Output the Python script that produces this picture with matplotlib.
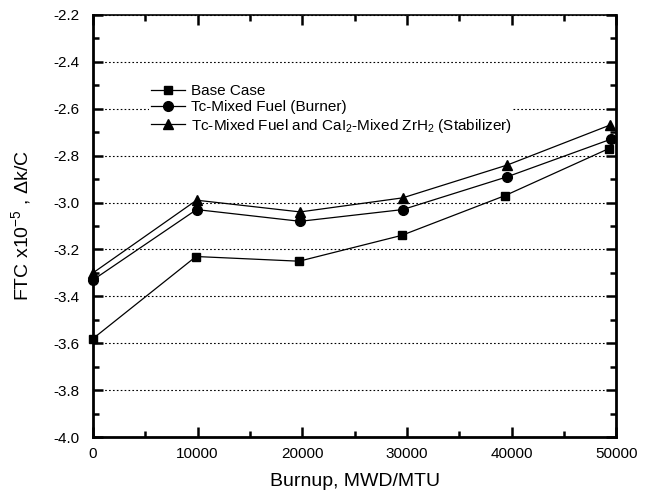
import matplotlib
matplotlib.use("Agg")
import matplotlib.pyplot as plt
from matplotlib.ticker import MultipleLocator

plt.rcParams['font.family'] = ['Liberation Sans', 'DejaVu Sans']
plt.rcParams['mathtext.default'] = 'regular'

# burnup points (MWD/MTU)
burnup_base = [0, 9850, 19700, 29500, 39400, 49300]
burnup_tc = [0, 9900, 19800, 29600, 39600, 49500]
burnup_stab = [0, 9900, 19800, 29600, 39600, 49400]

ftc_base = [-3.58, -3.23, -3.25, -3.14, -2.97, -2.77]
ftc_tc = [-3.33, -3.03, -3.08, -3.03, -2.89, -2.73]
ftc_stab = [-3.30, -2.99, -3.04, -2.98, -2.84, -2.67]

labels = ["Base Case",
          "Tc-Mixed Fuel (Burner)",
          "Tc-Mixed Fuel and CaI$_2$-Mixed ZrH$_2$ (Stabilizer)"]

fig = plt.figure(figsize=(6.5, 4.94), dpi=100)
ax = fig.add_axes([0.143, 0.115, 0.805, 0.855])

ax.plot(burnup_base, ftc_base, color='black', lw=0.9, marker='s', ms=6,
        label=labels[0], clip_on=False, zorder=3)
ax.plot(burnup_tc, ftc_tc, color='black', lw=0.9, marker='o', ms=7,
        label=labels[1], clip_on=False, zorder=3)
ax.plot(burnup_stab, ftc_stab, color='black', lw=0.9, marker='^', ms=7.5,
        label=labels[2], clip_on=False, zorder=3)

ax.set_xlim(0, 50000)
ax.set_ylim(-4.0, -2.2)
ax.xaxis.set_major_locator(MultipleLocator(10000))
ax.xaxis.set_minor_locator(MultipleLocator(5000))
ax.yaxis.set_major_locator(MultipleLocator(0.2))
ax.yaxis.set_minor_locator(MultipleLocator(0.1))
ax.yaxis.set_major_formatter(plt.FuncFormatter(lambda v, p: f"{v:.1f}"))

ax.tick_params(which='both', direction='in', top=True, right=True,
               labelsize=11, width=1.8)
ax.tick_params(axis='y', pad=10)
ax.tick_params(axis='x', pad=7)
ax.tick_params(which='major', length=7)
ax.tick_params(which='minor', length=4)

for side in ['left', 'right', 'bottom']:
    ax.spines[side].set_linewidth(2)
ax.spines['top'].set_linewidth(1.2)

ax.grid(True, axis='y', which='major', linestyle=(0, (1.5, 2)), color='black',
        lw=0.8)

ax.set_xlabel("Burnup, MWD/MTU", fontsize=14, labelpad=9)
ax.set_ylabel("FTC x10$^{-5}$ , $\\Delta$k/C", fontsize=14, labelpad=14)

leg = ax.legend(loc='upper left', bbox_to_anchor=(0.108, 0.84), frameon=True,
                fontsize=11, handlelength=2.2, handletextpad=0.4,
                labelspacing=0.15, borderaxespad=0, borderpad=0.1,
                fancybox=False, framealpha=1)
leg.get_frame().set_edgecolor('none')
leg.get_frame().set_facecolor('white')

fig.savefig("out.png", dpi=100)
